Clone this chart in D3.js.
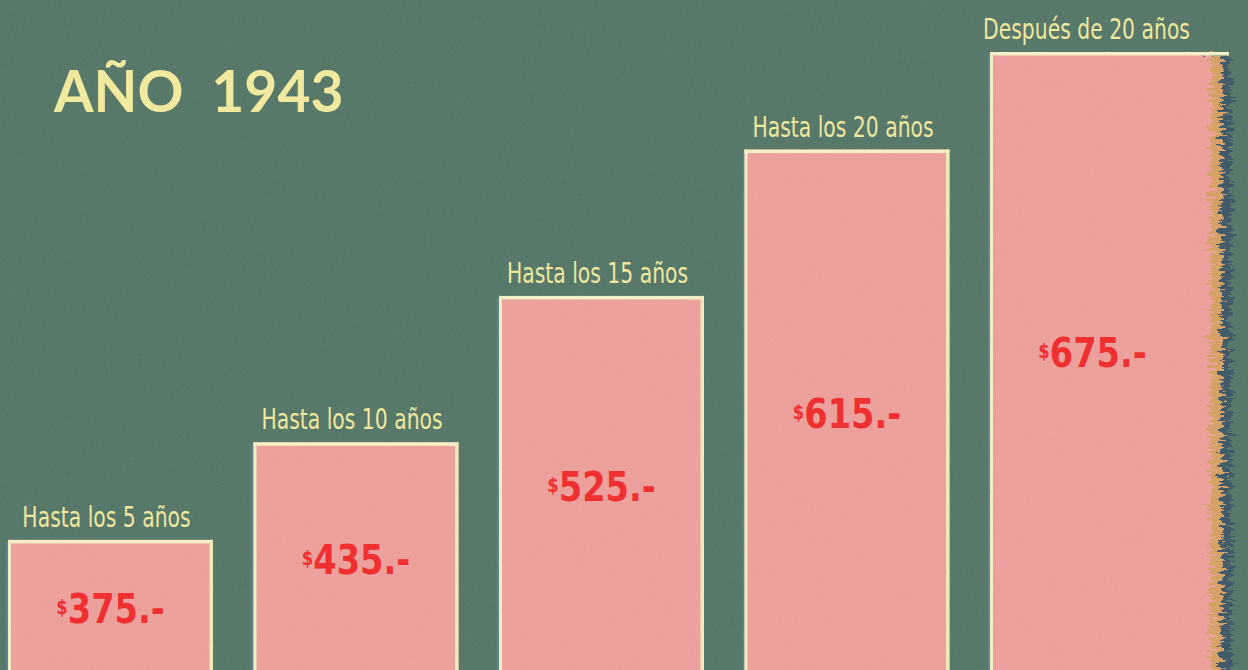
<!DOCTYPE html>
<html>
<head>
<meta charset="utf-8">
<script src="https://cdn.jsdelivr.net/npm/d3@7"></script>
<style>
  html, body { margin: 0; padding: 0; background: #537565; }
  #chart { width: 1248px; height: 670px; overflow: hidden; }
  .label { font-family: "DejaVu Sans Condensed", "DejaVu Sans", sans-serif; fill: #f1ea9e; }
  .value { font-family: "DejaVu Sans", sans-serif; font-weight: bold; fill: #f2282a; }
  .title { font-family: "Lato", "DejaVu Sans", sans-serif; font-weight: bold; fill: #f3ec9e; }
</style>
</head>
<body>
<div id="chart"></div>
<script>
var categories = ['Hasta los 5 años', 'Hasta los 10 años', 'Hasta los 15 años', 'Hasta los 20 años', 'Después de 20 años'];
var values = [375, 435, 525, 615, 675];
var valueLabels = ['375.-', '435.-', '525.-', '615.-', '675.-'];
var title = 'AÑO 1943';

var width = 1248, height = 670;

var svg = d3.select('#chart')
    .append('svg')
    .attr('width', width)
    .attr('height', height);

// paper grain
var defs = svg.append('defs');
var grain = defs.append('filter').attr('id', 'grain').attr('x', 0).attr('y', 0).attr('width', '100%').attr('height', '100%');
grain.append('feTurbulence').attr('type', 'fractalNoise').attr('baseFrequency', 0.9).attr('numOctaves', 2).attr('seed', 3);
grain.append('feColorMatrix').attr('type', 'matrix')
    .attr('values', '1 0 0 0 0  1 0 0 0 0  1 0 0 0 0  0 0 0 0.1 0');
var torn = defs.append('filter').attr('id', 'torn').attr('x', '-50%').attr('width', '200%');
torn.append('feTurbulence').attr('type', 'fractalNoise').attr('baseFrequency', '0.08 0.35').attr('numOctaves', 3).attr('seed', 7).attr('result', 'n');
torn.append('feDisplacementMap').attr('in', 'SourceGraphic').attr('in2', 'n').attr('scale', 22).attr('xChannelSelector', 'R').attr('yChannelSelector', 'G');

svg.append('rect').attr('width', width).attr('height', height).attr('fill', '#537565');

// scales
var x = d3.scaleBand().domain(categories).range([8, 1195]).paddingInner(0.165).paddingOuter(0);
var y = d3.scaleLinear().domain([295, 675]).range([height, 52]);

var bars = svg.append('g');

// ragged right edge of last bar
var last = categories[categories.length - 1];
var ex = x(last) + x.bandwidth() - 6, ey = y(values[values.length - 1]) + 3;
[[42, '#3b5666'], [33, '#d6a062'], [22, '#ef9f9b']].forEach(function (d) {
    bars.append('rect')
        .attr('x', ex).attr('y', ey)
        .attr('width', d[0]).attr('height', height)
        .attr('fill', d[1])
        .attr('filter', 'url(#torn)');
});

categories.forEach(function (c, i) {
    var isLast = i === categories.length - 1;
    var bx = x(c), bw = x.bandwidth(), by = y(values[i]);
    var g = bars.append('g');
    g.append('rect').attr('x', bx - 2).attr('y', by + 2).attr('width', 2).attr('height', height - by).attr('fill', '#6088a6').attr('opacity', 0.6);
    // pink body
    g.append('rect')
        .attr('x', bx).attr('y', by)
        .attr('width', bw + (isLast ? 6 : 0)).attr('height', height - by)
        .attr('fill', '#ef9f9b');
    // cream frame
    g.append('rect')
        .attr('x', bx).attr('y', by)
        .attr('width', bw + (isLast ? 34 : 0)).attr('height', 3.5)
        .attr('fill', '#f6f2c8');
    g.append('rect').attr('x', bx).attr('y', by).attr('width', 3).attr('height', height - by).attr('fill', '#f4f0c4');
    if (!isLast) {
        g.append('rect').attr('x', bx + bw - 3.5).attr('y', by).attr('width', 3.5).attr('height', height - by).attr('fill', '#f1ecbc');
    }

    // category label above bar
    var lx = bx + bw / 2 + (isLast ? -6 : -4);
    svg.append('text')
        .attr('class', 'label')
        .attr('transform', 'translate(' + lx + ',' + (by - 13) + ') scale(0.78,1)')
        .attr('text-anchor', 'middle')
        .style('font-size', '29px')
        .text(c);

    // value label
    var vy = (by + height) / 2 + 18 - (isLast ? 12 : 0);
    var vx = bx + bw / 2;
    var t = svg.append('text')
        .attr('class', 'value')
        .attr('transform', 'translate(' + vx + ',' + vy + ') scale(0.82,1)')
        .attr('text-anchor', 'middle')
        .style('font-size', '41px');
    t.append('tspan').style('font-size', '20px').attr('dy', -9).text('$');
    t.append('tspan').attr('dy', 9).text(valueLabels[i]);
});

svg.append('text')
    .attr('class', 'title')
    .attr('x', 54)
    .attr('y', 112)
    .style('font-size', '57px')
    .attr('xml:space', 'preserve')
    .text(title.replace(' ', '  '));

svg.append('rect').attr('width', width).attr('height', height).attr('filter', 'url(#grain)').attr('pointer-events', 'none');
</script>
</body>
</html>
